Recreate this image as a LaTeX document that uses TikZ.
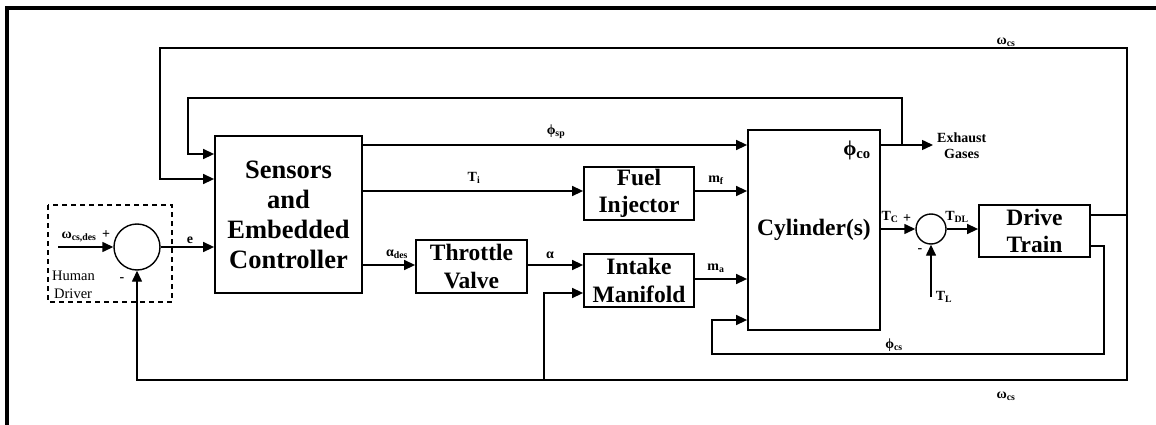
\documentclass[tikz,border=0pt]{standalone}
\usepackage{fontspec}
\setmainfont{Liberation Serif}
\usetikzlibrary{arrows.meta}
\newcommand{\lsub}[2]{#1\textsubscript{#2}}
\begin{document}
\begin{tikzpicture}[x=1pt,y=-1pt,
  conn/.style={line width=1.4pt},
  arr/.style={line width=1.4pt,-{Triangle[length=11pt,width=10pt]}},
  blk/.style={draw,line width=1.8pt,rectangle,align=center,font=\fontsize{23.5}{27.5}\selectfont\bfseries,inner sep=0pt},
  sumc/.style={draw,line width=1.4pt,circle,inner sep=0pt},
  lab/.style={font=\fontsize{14}{16}\selectfont\bfseries,inner sep=0pt},
  plain/.style={font=\fontsize{14.5}{17}\selectfont,inner sep=0pt}]
\useasboundingbox (0,0) rectangle (1156,425);
\fill[white] (0,0) rectangle (1156,425);
% frame
\draw[line width=4pt] (7,425) -- (7,8) -- (1156,8);
% blocks
\node[blk,minimum width=147pt,minimum height=157pt,font=\fontsize{26.5}{30}\selectfont\bfseries] (sens) at (288.5,214.5) {Sensors\\and\\Embedded\\Controller};
\node[blk,minimum width=111pt,minimum height=53pt] (thr) at (471.5,266.5) {Throttle\\Valve};
\node[blk,minimum width=110pt,minimum height=53pt] (fuel) at (639,193.5) {Fuel\\Injector};
\node[blk,minimum width=110pt,minimum height=53pt] (intk) at (639,280.5) {Intake\\Manifold};
\node[blk,minimum width=132pt,minimum height=200pt] (cyl) at (814,230) {Cylinder(s)};
\node[blk,minimum width=111pt,minimum height=52pt] (drv) at (1034.5,231) {Drive\\Train};
\node[sumc,minimum size=46pt] (s1) at (137,247) {};
\node[sumc,minimum size=30pt] (s2) at (931,229) {};
\draw[line width=1.4pt,dashed,dash pattern=on 5pt off 4pt] (48,205) rectangle (172,302);
% coordinates
\coordinate (win) at (58,247);
\coordinate (wR) at (1127,215);
\coordinate (wB) at (137,380);
\coordinate (iB) at (544,380);
\coordinate (ex) at (902,145);
\coordinate (pR) at (1104,246);
\coordinate (pB) at (712,354);
\coordinate (tl) at (931,297);
\node[lab,anchor=west,align=center] (exh) at (937,146) {Exhaust\\Gases};
% connectors
\draw[arr] (win) -- (s1.west);
\draw[arr] (s1.east) -- (sens.west |- s1.east);
\draw[conn] (drv.east |- wR) -- (wR);
\draw[arr] (wR) |- (160,48) |- (sens.west |- 0,179);
\draw[arr] (wR) |- (wB) -- (s1.south);
\draw[arr] (iB) |- (intk.west |- 0,293);
\draw[arr,shorten >=4pt] (cyl.east |- ex) -- (exh.west |- ex);
\draw[arr] (ex) |- (188,98) |- (sens.west |- 0,154);
\draw[arr] (sens.east |- 0,145) -- (cyl.west |- 0,145);
\draw[arr] (sens.east |- 0,191) -- (fuel.west |- 0,191);
\draw[arr] (sens.east |- 0,265) -- (thr.west |- 0,265);
\draw[arr] (thr.east |- 0,265) -- (intk.west |- 0,265);
\draw[arr] (fuel.east |- 0,191) -- (cyl.west |- 0,191);
\draw[arr] (intk.east |- 0,279) -- (cyl.west |- 0,279);
\draw[arr] (drv.east |- pR) -- (pR) |- (pB) |- (cyl.west |- 0,320);
\draw[arr] (cyl.east |- s2.west) -- (s2.west);
\draw[arr] (s2.east) -- (drv.west |- s2.east);
\draw[arr] (tl) -- (s2.south);
% labels
\node[lab] at (79,237) {\lsub{ω}{cs,des}};
\node[lab] at (106,235) {+};
\node[lab] at (122,280) {-};
\node[plain,anchor=west] at (52,276) {Human};
\node[plain,anchor=west] at (54,294) {Driver};
\node[lab] at (190,240) {e};
\node[lab] at (556,132) {\lsub{ϕ}{sp}};
\node[lab] at (474,178) {\lsub{T}{i}};
\node[lab] at (397,254) {\lsub{α}{des}};
\node[lab] at (550,255) {α};
\node[lab] at (716,180) {\lsub{m}{f}};
\node[lab] at (716,268) {\lsub{m}{a}};
\node[lab,font=\fontsize{21}{23}\selectfont\bfseries] at (857,150) {\lsub{ϕ}{co}};
\node[lab] at (890,217) {\lsub{T}{C}};
\node[lab] at (907,219) {+};
\node[lab] at (957,217) {\lsub{T}{DL}};
\node[lab] at (920,251) {-};
\node[lab] at (944,297) {\lsub{T}{L}};
\node[lab] at (894,345) {\lsub{ϕ}{cs}};
\node[lab] at (1006,42) {\lsub{ω}{cs}};
\node[lab] at (1006,396) {\lsub{ω}{cs}};
\end{tikzpicture}
\end{document}
